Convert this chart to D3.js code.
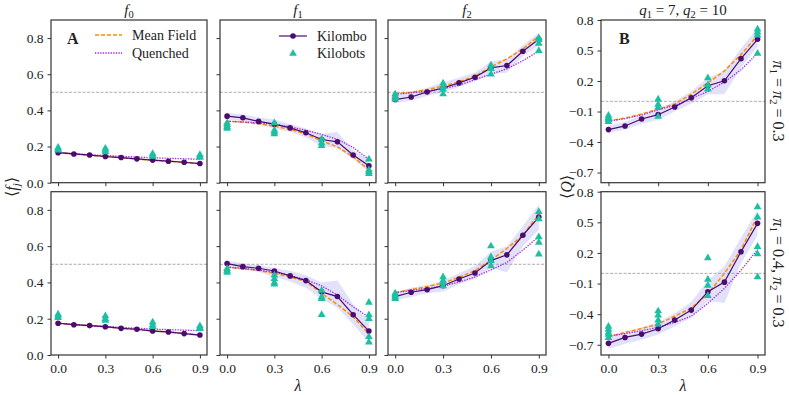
<!DOCTYPE html>
<html><head><meta charset="utf-8">
<script src="https://cdn.jsdelivr.net/npm/d3@7"></script>
<style>
html,body{margin:0;padding:0;background:#fff;}
</style></head><body>
<svg id="chart" width="789" height="395"></svg>
<script>
// ---------- data ----------
const lambdas = [0,0.1,0.2,0.3,0.4,0.5,0.6,0.7,0.8,0.9];
const xTicks = [0.0,0.3,0.6,0.9];
const fTicks = [0.0,0.2,0.4,0.6,0.8];
const qTicks = [-0.7,-0.4,-0.1,0.2,0.5,0.8];
const colTitles = ["f0","f1","f2","Q"];

// Row 1: pi1 = pi2 = 0.3
const kilomboF0a = [0.166,0.159,0.153,0.145,0.139,0.132,0.125,0.119,0.113,0.106];
const meanF0a    = [0.166,0.159,0.152,0.145,0.138,0.131,0.124,0.118,0.112,0.105];
const quenchF0a  = [0.166,0.160,0.155,0.150,0.146,0.142,0.138,0.135,0.132,0.130];
const loF0a      = [0.160,0.154,0.148,0.140,0.134,0.127,0.120,0.114,0.108,0.100];
const hiF0a      = [0.172,0.165,0.158,0.150,0.144,0.137,0.130,0.124,0.118,0.112];
const botsF0a    = [[0,0.195],[0,0.185],[0,0.18],[0.3,0.19],[0.3,0.18],[0.3,0.17],[0.6,0.16],[0.6,0.15],[0.6,0.145],[0.9,0.155],[0.9,0.145],[0.9,0.14]];

const kilomboF1a = [0.368,0.359,0.339,0.324,0.303,0.276,0.239,0.226,0.153,0.094];
const meanF1a    = [0.340,0.335,0.326,0.313,0.295,0.270,0.232,0.198,0.144,0.070];
const quenchF1a  = [0.340,0.336,0.331,0.324,0.309,0.290,0.267,0.240,0.195,0.129];
const loF1a      = [0.350,0.340,0.320,0.300,0.280,0.250,0.205,0.190,0.130,0.060];
const hiF1a      = [0.385,0.378,0.360,0.350,0.325,0.300,0.270,0.280,0.180,0.130];
const botsF1a    = [[0,0.33],[0,0.32],[0,0.31],[0,0.30],[0.3,0.33],[0.3,0.29],[0.3,0.28],[0.3,0.27],[0.6,0.24],[0.6,0.22],[0.6,0.205],[0.9,0.13],[0.9,0.07],[0.9,0.06],[0.9,0.05]];

const kilomboF2a = [0.460,0.474,0.502,0.524,0.552,0.583,0.635,0.648,0.727,0.793];
const meanF2a    = [0.493,0.500,0.515,0.534,0.558,0.590,0.640,0.685,0.740,0.810];
const quenchF2a  = [0.490,0.497,0.507,0.520,0.540,0.570,0.600,0.630,0.675,0.728];
const loF2a      = [0.440,0.455,0.480,0.500,0.530,0.560,0.600,0.610,0.700,0.760];
const hiF2a      = [0.485,0.500,0.525,0.555,0.580,0.610,0.670,0.685,0.760,0.830];
const botsF2a    = [[0,0.49],[0,0.48],[0,0.47],[0,0.46],[0.3,0.55],[0.3,0.53],[0.3,0.515],[0.3,0.49],[0.6,0.65],[0.6,0.63],[0.6,0.60],[0.9,0.80],[0.9,0.79],[0.9,0.77],[0.9,0.73]];

const kilomboQa  = [-0.278,-0.242,-0.174,-0.131,-0.056,0.035,0.153,0.202,0.420,0.610];
const meanQa     = [-0.190,-0.165,-0.125,-0.076,-0.025,0.070,0.180,0.300,0.460,0.646];
const quenchQa   = [-0.195,-0.170,-0.135,-0.083,-0.040,0.030,0.097,0.190,0.310,0.473];
const loQa       = [-0.310,-0.280,-0.220,-0.180,-0.100,-0.020,0.070,0.070,0.330,0.540];
const hiQa       = [-0.240,-0.200,-0.140,-0.080,0.000,0.100,0.230,0.300,0.520,0.720];
const botsQa     = [[0,-0.14],[0,-0.16],[0,-0.17],[0,-0.18],[0,-0.20],[0.3,0.02],[0.3,-0.03],[0.3,-0.06],[0.3,-0.15],[0.6,0.23],[0.6,0.16],[0.6,0.12],[0.9,0.71],[0.9,0.68],[0.9,0.65],[0.9,0.47]];

// Row 2: pi1 = 0.4, pi2 = 0.3
const kilomboF0b = [0.175,0.167,0.162,0.156,0.147,0.142,0.132,0.127,0.118,0.110];
const meanF0b    = [0.175,0.168,0.161,0.155,0.148,0.141,0.134,0.126,0.118,0.110];
const quenchF0b  = [0.175,0.168,0.162,0.157,0.152,0.147,0.143,0.140,0.137,0.134];
const loF0b      = [0.169,0.162,0.156,0.150,0.142,0.136,0.127,0.121,0.112,0.104];
const hiF0b      = [0.181,0.173,0.167,0.161,0.153,0.147,0.138,0.132,0.124,0.116];
const botsF0b    = [[0,0.225],[0,0.215],[0,0.205],[0.3,0.215],[0.3,0.20],[0.3,0.19],[0.6,0.18],[0.6,0.165],[0.6,0.155],[0.9,0.16],[0.9,0.15],[0.9,0.145]];

const kilomboF1b = [0.504,0.487,0.478,0.463,0.436,0.410,0.348,0.322,0.222,0.132];
const meanF1b    = [0.484,0.476,0.466,0.450,0.430,0.405,0.340,0.278,0.211,0.116];
const quenchF1b  = [0.484,0.478,0.468,0.456,0.438,0.415,0.381,0.330,0.266,0.208];
const loF1b      = [0.480,0.470,0.458,0.430,0.405,0.370,0.310,0.260,0.170,0.070];
const hiF1b      = [0.520,0.505,0.495,0.480,0.465,0.440,0.400,0.410,0.280,0.190];
const botsF1b    = [[0,0.475],[0,0.465],[0,0.455],[0.3,0.44],[0.3,0.42],[0.3,0.40],[0.3,0.39],[0.6,0.355],[0.6,0.32],[0.6,0.31],[0.6,0.222],[0.9,0.289],[0.9,0.22],[0.9,0.20],[0.9,0.10],[0.9,0.07]];

const kilomboF2b = [0.322,0.346,0.360,0.382,0.419,0.452,0.520,0.552,0.660,0.760];
const meanF2b    = [0.344,0.360,0.377,0.396,0.428,0.465,0.523,0.587,0.660,0.776];
const quenchF2b  = [0.344,0.356,0.367,0.380,0.402,0.430,0.469,0.510,0.578,0.653];
const loF2b      = [0.300,0.320,0.340,0.350,0.390,0.420,0.480,0.456,0.600,0.690];
const hiF2b      = [0.345,0.370,0.385,0.410,0.450,0.490,0.570,0.600,0.710,0.830];
const botsF2b    = [[0,0.34],[0,0.33],[0,0.32],[0,0.31],[0.3,0.43],[0.3,0.41],[0.3,0.40],[0.3,0.38],[0.6,0.60],[0.6,0.54],[0.6,0.52],[0.6,0.49],[0.9,0.79],[0.9,0.75],[0.9,0.65],[0.9,0.62],[0.9,0.555]];

const kilomboQb  = [-0.686,-0.628,-0.595,-0.543,-0.458,-0.360,-0.180,-0.086,0.212,0.490];
const meanQb     = [-0.620,-0.580,-0.540,-0.497,-0.420,-0.340,-0.200,0.000,0.230,0.560];
const quenchQb   = [-0.615,-0.590,-0.562,-0.530,-0.480,-0.420,-0.294,-0.147,0.030,0.235];
const loQb       = [-0.740,-0.690,-0.650,-0.600,-0.520,-0.430,-0.270,-0.290,0.100,0.370];
const hiQb       = [-0.620,-0.570,-0.530,-0.480,-0.390,-0.280,-0.070,0.070,0.350,0.620];
const botsQb     = [[0,-0.52],[0,-0.55],[0,-0.58],[0,-0.60],[0,-0.63],[0.3,-0.37],[0.3,-0.41],[0.3,-0.46],[0.3,-0.50],[0.6,0.15],[0.6,-0.06],[0.6,-0.12],[0.6,-0.22],[0.9,0.65],[0.9,0.55],[0.9,0.26],[0.9,0.19],[0.9,-0.035]];

// ---------- styling ----------
const C = {kilombo:"#4b0c72", mean:"#ff8c00", quench:"#a020f0", bots:"#1dbfa3", band:"#dadaf8", ref:"#999", axis:"#333", text:"#222"};
const FONT = '"Liberation Serif"';

const cols = [[51,207],[220,376],[388,546],[601,765]];
const rows = [[20,182.7],[191.7,355]];

const svg = d3.select("#chart");

const panels = [
  {r:0,c:0,k:kilomboF0a,m:meanF0a,q:quenchF0a,lo:loF0a,hi:hiF0a,b:botsF0a},
  {r:0,c:1,k:kilomboF1a,m:meanF1a,q:quenchF1a,lo:loF1a,hi:hiF1a,b:botsF1a},
  {r:0,c:2,k:kilomboF2a,m:meanF2a,q:quenchF2a,lo:loF2a,hi:hiF2a,b:botsF2a},
  {r:0,c:3,k:kilomboQa,m:meanQa,q:quenchQa,lo:loQa,hi:hiQa,b:botsQa},
  {r:1,c:0,k:kilomboF0b,m:meanF0b,q:quenchF0b,lo:loF0b,hi:hiF0b,b:botsF0b},
  {r:1,c:1,k:kilomboF1b,m:meanF1b,q:quenchF1b,lo:loF1b,hi:hiF1b,b:botsF1b},
  {r:1,c:2,k:kilomboF2b,m:meanF2b,q:quenchF2b,lo:loF2b,hi:hiF2b,b:botsF2b},
  {r:1,c:3,k:kilomboQb,m:meanQb,q:quenchQb,lo:loQb,hi:hiQb,b:botsQb}
];

const fmt = v => (v<0?"\u2212":"") + Math.abs(v).toFixed(1);
const tri = d3.symbol().type(d3.symbolTriangle).size(26);

function txt(sel){ return sel.append("text").style("font-family",FONT).attr("fill",C.text); }

panels.forEach(p => {
  const [x0,x1] = cols[p.c], [y0,y1] = rows[p.r];
  const isQ = p.c===3;
  const x = d3.scaleLinear().domain([-0.045,0.945]).range([x0,x1]);
  const y = d3.scaleLinear().domain(isQ?[-0.8,0.8]:[0,0.9]).range([y1,y0]);
  const g = svg.append("g");
  const clipId = "clip"+p.r+p.c;
  g.append("clipPath").attr("id",clipId).append("rect").attr("x",x0).attr("y",y0).attr("width",x1-x0).attr("height",y1-y0);
  const pg = g.append("g").attr("clip-path",`url(#${clipId})`);

  pg.append("path").datum(lambdas.map((l,i)=>[l,p.lo[i],p.hi[i]]))
    .attr("d", d3.area().x(d=>x(d[0])).y0(d=>y(d[1])).y1(d=>y(d[2])))
    .attr("fill",C.band).attr("opacity",0.8);
  const refV = isQ?0:0.5;
  pg.append("line").attr("x1",x0).attr("x2",x1).attr("y1",y(refV)).attr("y2",y(refV))
    .attr("stroke",C.ref).attr("stroke-width",0.8).attr("stroke-dasharray","3,1.5");
  const line = d3.line().x((d,i)=>x(lambdas[i])).y(d=>y(d));
  pg.append("path").datum(p.m).attr("d",line).attr("fill","none").attr("stroke",C.mean).attr("stroke-width",1.5).attr("stroke-dasharray","4,2");
  pg.append("path").datum(p.q).attr("d",line).attr("fill","none").attr("stroke",C.quench).attr("stroke-width",1.3).attr("stroke-dasharray","1.3,1.3");
  pg.append("path").datum(p.k).attr("d",line).attr("fill","none").attr("stroke",C.kilombo).attr("stroke-width",1.2);
  pg.selectAll("circle.k").data(p.k).enter().append("circle")
    .attr("cx",(d,i)=>x(lambdas[i])).attr("cy",d=>y(d)).attr("r",2.8).attr("fill",C.kilombo);
  pg.selectAll("path.b").data(p.b).enter().append("path")
    .attr("d",tri).attr("transform",d=>`translate(${x(d[0])},${y(d[1])})`).attr("fill",C.bots);

  const xAx = d3.axisBottom(x).tickValues(xTicks).tickSize(3.5).tickPadding(5)
    .tickFormat(p.r===1?fmt:"");
  const yAx = d3.axisLeft(y).tickValues(isQ?qTicks:fTicks).tickSize(3.5).tickPadding(4)
    .tickFormat((p.c===0||isQ)?fmt:"");
  const gx = g.append("g").attr("transform",`translate(0,${y1})`).call(xAx);
  const gy = g.append("g").attr("transform",`translate(${x0},0)`).call(yAx);
  [gx,gy].forEach(a=>{
    a.attr("font-size",13.5);
    a.select(".domain").remove();
    a.selectAll(".tick line").attr("stroke",C.axis).attr("stroke-width",1);
    a.selectAll(".tick text").attr("fill",C.text).style("font-family",FONT).attr("font-size",13.5);
  });
  g.append("rect").attr("x",x0).attr("y",y0).attr("width",x1-x0).attr("height",y1-y0)
    .attr("fill","none").attr("stroke",C.axis).attr("stroke-width",1.2);

  if (p.r===0) {
    const cx = (x0+x1)/2;
    const t = txt(svg).attr("x",cx).attr("y",15).attr("text-anchor","middle").attr("font-size",15);
    if (!isQ) {
      t.append("tspan").attr("font-style","italic").text("f");
      t.append("tspan").attr("font-size",10.5).attr("dy",3).text(colTitles[p.c].slice(1));
    } else {
      t.append("tspan").attr("font-style","italic").text("q");
      t.append("tspan").attr("font-size",10.5).attr("dy",3).text("1");
      t.append("tspan").attr("dy",-3).text(" = 7,  ");
      t.append("tspan").attr("font-style","italic").text("q");
      t.append("tspan").attr("font-size",10.5).attr("dy",3).text("2");
      t.append("tspan").attr("dy",-3).text(" = 10");
    }
  }
  if (p.r===1 && (p.c===1||p.c===3)) {
    txt(svg).attr("x",(x0+x1)/2).attr("y",391).attr("text-anchor","middle")
      .attr("font-size",16).attr("font-style","italic").text("λ");
  }
});

txt(svg).attr("x",67).attr("y",44).attr("font-size",16).attr("font-weight","bold").text("A");
txt(svg).attr("x",619).attr("y",44).attr("font-size",16).attr("font-weight","bold").text("B");

const legA = [{t:"Mean Field",c:C.mean,d:"4,2",w:1.5,y:35},{t:"Quenched",c:C.quench,d:"1.3,1.3",w:1.3,y:53}];
legA.forEach(l=>{
  svg.append("line").attr("x1",95).attr("x2",122).attr("y1",l.y).attr("y2",l.y)
    .attr("stroke",l.c).attr("stroke-width",l.w).attr("stroke-dasharray",l.d);
  txt(svg).attr("x",132).attr("y",l.y+4.5).attr("font-size",14).text(l.t);
});
svg.append("line").attr("x1",279).attr("x2",307).attr("y1",36).attr("y2",36).attr("stroke",C.kilombo).attr("stroke-width",1.2);
svg.append("circle").attr("cx",293).attr("cy",36).attr("r",2.8).attr("fill",C.kilombo);
txt(svg).attr("x",317).attr("y",40.5).attr("font-size",14).text("Kilombo");
svg.append("path").attr("d",tri).attr("transform","translate(293,53.5)").attr("fill",C.bots);
txt(svg).attr("x",317).attr("y",58).attr("font-size",14).text("Kilobots");

function yLabel(xp, yp, main, sub) {
  const t = txt(svg).attr("transform",`translate(${xp},${yp}) rotate(-90)`)
    .attr("text-anchor","middle").attr("font-size",16);
  t.append("tspan").text("⟨");
  t.append("tspan").attr("font-style","italic").text(main);
  if (sub) t.append("tspan").attr("font-size",11).attr("font-style","italic").attr("dy",3).text(sub);
  t.append("tspan").attr("dy",sub?-3:0).text("⟩");
}
yLabel(17,187,"f","j");
yLabel(572,187,"Q",null);

function rowLabel(yp, parts) {
  const t = txt(svg).attr("transform",`translate(773,${yp}) rotate(90)`)
    .attr("text-anchor","middle").attr("font-size",16);
  parts.forEach(pt=>{
    const s = t.append("tspan").text(pt.t);
    if (pt.i) s.attr("font-style","italic");
    if (pt.sub) s.attr("font-size",11).attr("dy",3);
    if (pt.up) s.attr("dy",-3);
  });
}
rowLabel(101,[{t:"π",i:1},{t:"1",sub:1},{t:" = ",up:1},{t:"π",i:1},{t:"2",sub:1},{t:" = 0.3",up:1}]);
rowLabel(273,[{t:"π",i:1},{t:"1",sub:1},{t:" = 0.4, ",up:1},{t:"π",i:1},{t:"2",sub:1},{t:" = 0.3",up:1}]);
</script>
</body></html>
